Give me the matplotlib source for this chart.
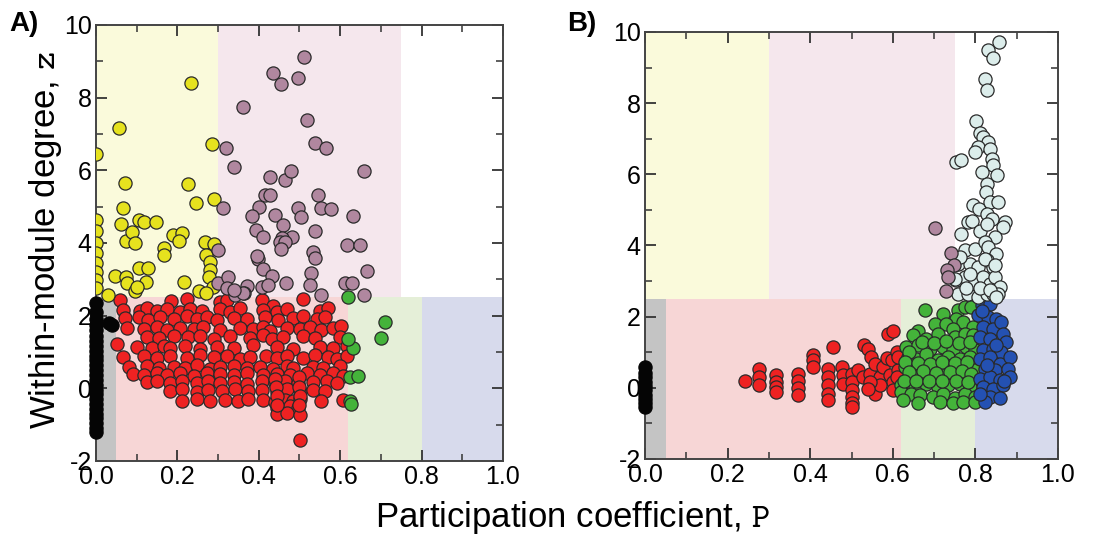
import matplotlib
matplotlib.use("Agg")
import matplotlib.pyplot as plt
from matplotlib.patches import Rectangle
from matplotlib.ticker import MultipleLocator, FormatStrFormatter

plt.rcParams['font.family'] = ['Liberation Sans', 'DejaVu Sans']
plt.rcParams['mathtext.fontset'] = 'cm'

# ---------------- role thresholds (cartography) ----------------
p_bounds_nonhub = [0.0, 0.05, 0.62, 0.80, 1.0]
p_bounds_hub = [0.0, 0.30, 0.75, 1.0]
z_hub = 2.5
nonhub_colors = ['#c4c4c4', '#f7d6d6', '#e5efd8', '#d7daec']
hub_colors = ['#fafadb', '#f5e7ed', '#ffffff']

# ---------------- Panel A data ----------------
A_black_P = [0.0]*26 + [0.033, 0.039]
A_black_z = [-1.2, -1.08, -0.95, -0.82, -0.7, -0.57, -0.44, -0.3, -0.17, -0.04,
             0.1, 0.23, 0.36, 0.5, 0.63, 0.77, 0.9, 1.04, 1.17, 1.31, 1.45,
             1.6, 1.75, 1.9, 2.1, 2.35, 1.80, 1.73]

A_yellow_P = [0.0, 0.0, 0.0, 0.0, 0.0, 0.0, 0.0, 0.0, 0.0,
              0.057, 0.072, 0.066, 0.061, 0.074, 0.088, 0.095, 0.105, 0.117, 0.147,
              0.105, 0.128, 0.123, 0.047, 0.074, 0.076, 0.096, 0.029, 0.166, 0.168,
              0.190, 0.211, 0.203, 0.234, 0.225, 0.246, 0.217, 0.285, 0.289, 0.268,
              0.291, 0.271, 0.279, 0.280, 0.277, 0.287, 0.252, 0.270, 0.101]
A_yellow_z = [6.44, 4.63, 4.33, 4.0, 3.72, 3.44, 3.2, 2.98, 2.75,
              7.17, 5.66, 4.95, 4.51, 4.06, 4.31, 3.99, 4.63, 4.59, 4.59,
              3.30, 3.32, 2.94, 3.09, 3.06, 2.89, 2.68, 2.57, 3.85, 3.67,
              4.22, 4.27, 4.06, 8.41, 5.62, 5.11, 2.94, 6.72, 5.20, 4.04,
              3.96, 3.67, 3.49, 3.26, 3.07, 2.78, 2.68, 2.63, 2.79]

A_purple_P = [0.512, 0.434, 0.455, 0.497, 0.362, 0.518, 0.320, 0.538, 0.565, 0.338,
              0.428, 0.464, 0.479, 0.659, 0.416, 0.428, 0.545, 0.312, 0.401, 0.497,
              0.504, 0.554, 0.577, 0.383, 0.440, 0.632, 0.460, 0.393, 0.411, 0.481,
              0.538, 0.458, 0.451, 0.464, 0.455, 0.534, 0.538, 0.616, 0.648, 0.301,
              0.397, 0.411, 0.432, 0.528, 0.667, 0.467, 0.526, 0.612, 0.628, 0.301,
              0.325, 0.321, 0.342, 0.370, 0.364, 0.409, 0.423, 0.553, 0.658, 0.362,
              0.340, 0.395]
A_purple_z = [9.11, 8.69, 8.38, 8.53, 7.75, 7.39, 6.62, 6.76, 6.62, 6.10,
              5.83, 5.73, 5.98, 5.98, 5.32, 5.32, 5.32, 4.95, 4.98, 4.95,
              4.71, 4.95, 4.94, 4.74, 4.77, 4.74, 4.50, 4.36, 4.17, 4.17,
              4.34, 4.13, 4.04, 4.04, 3.83, 3.76, 3.58, 3.94, 3.94, 3.81,
              3.55, 3.28, 3.09, 3.17, 3.23, 2.91, 2.84, 2.91, 2.89, 2.91,
              3.07, 2.75, 2.57, 2.82, 2.61, 2.78, 2.84, 2.57, 2.57, 2.62,
              2.70, 3.63]

A_green_P = [0.620, 0.710, 0.700, 0.632, 0.624, 0.643, 0.624, 0.626, 0.620]
A_green_z = [2.50, 1.83, 1.38, 1.10, 0.31, 0.33, -0.35, -0.44, 1.35]

A_red_P = [0.058, 0.184, 0.223, 0.305, 0.321, 0.407, 0.508, 0.436,
           0.066, 0.109, 0.125, 0.150, 0.174, 0.207, 0.231, 0.260, 0.305, 0.330, 0.354, 0.411, 0.444, 0.469, 0.550, 0.571,
           0.072, 0.105, 0.129, 0.158, 0.191, 0.223, 0.248, 0.272, 0.297, 0.338, 0.370, 0.415, 0.448, 0.485, 0.509, 0.542, 0.563,
           0.076, 0.117, 0.150, 0.174, 0.207, 0.240, 0.264, 0.305, 0.354, 0.387, 0.411, 0.428, 0.469, 0.501, 0.526, 0.554, 0.583, 0.603,
           0.125, 0.154, 0.191, 0.227, 0.256, 0.289, 0.330, 0.379, 0.411, 0.432, 0.460, 0.509, 0.538, 0.599, 0.052,
           0.101, 0.137, 0.166, 0.182, 0.219, 0.256, 0.297, 0.338, 0.387, 0.444, 0.485, 0.550, 0.583, 0.616,
           0.066, 0.117, 0.150, 0.182, 0.223, 0.256, 0.289, 0.321, 0.354, 0.379, 0.419, 0.444, 0.469, 0.509, 0.538, 0.571, 0.591, 0.616,
           0.080, 0.125, 0.154, 0.191, 0.219, 0.248, 0.280, 0.305, 0.338, 0.370, 0.403, 0.436, 0.469, 0.485, 0.534, 0.558, 0.599,
           0.092, 0.117, 0.150, 0.174, 0.207, 0.240, 0.272, 0.305, 0.338, 0.370, 0.411, 0.444, 0.477, 0.518, 0.550, 0.583, 0.608,
           0.125, 0.150, 0.182, 0.211, 0.248, 0.276, 0.305, 0.338, 0.370, 0.407, 0.440, 0.464, 0.497, 0.534, 0.567, 0.591,
           0.182, 0.211, 0.248, 0.276, 0.309, 0.342, 0.374, 0.407, 0.444, 0.469, 0.501, 0.534, 0.563,
           0.211, 0.248, 0.280, 0.317, 0.350, 0.374, 0.411, 0.440, 0.464, 0.485, 0.501, 0.554, 0.608,
           0.444, 0.477, 0.497, 0.444, 0.469, 0.501, 0.501,
           0.440, 0.442, 0.444, 0.446, 0.498, 0.500, 0.502, 0.499]
A_red_z = [2.44, 2.40, 2.46, 2.38, 2.42, 2.44, 2.45, 2.26,
           2.16, 2.12, 2.20, 2.14, 2.18, 2.10, 2.19, 2.13, 2.17, 2.11, 2.20, 2.15, 2.09, 2.18, 2.14, 2.20,
           1.93, 1.97, 1.88, 1.95, 1.90, 1.98, 1.91, 1.95, 1.87, 1.94, 1.90, 1.97, 1.89, 1.93, 1.98, 1.91, 1.96,
           1.65, 1.62, 1.69, 1.60, 1.67, 1.63, 1.70, 1.61, 1.66, 1.64, 1.70, 1.58, 1.66, 1.62, 1.68, 1.60, 1.65, 1.71,
           1.42, 1.38, 1.45, 1.40, 1.44, 1.36, 1.43, 1.39, 1.46, 1.37, 1.41, 1.45, 1.38, 1.42, 1.23,
           1.14, 1.10, 1.17, 1.12, 1.16, 1.09, 1.15, 1.11, 1.18, 1.13, 1.08, 1.15, 1.12, 1.17,
           0.86, 0.90, 0.83, 0.88, 0.84, 0.91, 0.85, 0.89, 0.82, 0.87, 0.90, 0.84, 0.88, 0.83, 0.91, 0.86, 0.80, 0.88,
           0.58, 0.62, 0.55, 0.60, 0.57, 0.63, 0.54, 0.59, 0.61, 0.56, 0.60, 0.53, 0.62, 0.57, 0.59, 0.55, 0.61,
           0.40, 0.36, 0.42, 0.38, 0.41, 0.35, 0.43, 0.39, 0.37, 0.42, 0.36, 0.40, 0.38, 0.43, 0.37, 0.41, 0.35,
           0.17, 0.20, 0.14, 0.19, 0.15, 0.21, 0.16, 0.18, 0.13, 0.20, 0.16, 0.19, 0.14, 0.18, 0.21, 0.15,
           -0.06, -0.03, -0.09, -0.04, -0.08, -0.02, -0.07, -0.05, -0.10, -0.03, -0.08, -0.04, -0.06,
           -0.34, -0.30, -0.36, -0.31, -0.35, -0.29, -0.33, -0.37, -0.32, -0.36, -0.30, -0.34, -0.31,
           -0.53, -0.50, -0.55, -0.71, -0.68, -0.73, -1.41,
           0.25, 0.05, -0.20, -0.45, 0.30, 0.05, -0.20, -0.45]

# ---------------- Panel B data ----------------
B_black_P = [0.0]*10
B_black_z = [-0.55, -0.43, -0.31, -0.19, -0.07, 0.05, 0.17, 0.29, 0.43, 0.58]

B_purple_P = [0.702, 0.740, 0.748, 0.732, 0.734, 0.730]
B_purple_z = [4.50, 3.79, 3.44, 3.32, 3.11, 2.72]

B_red_P = [0.242, 0.277, 0.277, 0.277, 0.317, 0.317, 0.317, 0.317,
           0.371, 0.371, 0.371, 0.371, 0.406, 0.406, 0.407, 0.456,
           0.444, 0.444, 0.444, 0.444, 0.444, 0.478, 0.480, 0.480,
           0.500, 0.500, 0.500, 0.500, 0.500, 0.500,
           0.530, 0.540, 0.548, 0.516, 0.528, 0.544, 0.556, 0.556, 0.556,
           0.569, 0.577, 0.585, 0.597, 0.589, 0.601, 0.593, 0.601, 0.601,
           0.609, 0.613, 0.569, 0.544, 0.540, 0.609, 0.613]
B_red_z = [0.19, 0.54, 0.31, 0.07, 0.36, 0.17, 0.03, -0.11,
           0.40, 0.19, 0.00, -0.20, 0.92, 0.78, 0.59, 1.15,
           0.54, 0.31, 0.07, -0.16, -0.35, 0.59, 0.36, 0.12,
           0.40, 0.17, -0.07, -0.25, -0.44, -0.53,
           1.20, 1.10, 0.87, 0.50, 0.31, 0.40, 0.68, 0.03, -0.16,
           0.31, 0.59, 0.85, 0.78, 1.52, 1.60, 0.36, 0.17, -0.07,
           1.01, 0.50, 0.07, 0.17, -0.02, 0.31, 0.87]

B_green_P = [0.677, 0.722, 0.758, 0.774, 0.790, 0.754,
             0.702, 0.730, 0.770, 0.794, 0.660, 0.745,
             0.649, 0.681, 0.710, 0.750, 0.774, 0.794,
             0.633, 0.661, 0.690, 0.722, 0.746, 0.778, 0.798,
             0.637, 0.657, 0.681, 0.710, 0.734, 0.762, 0.786,
             0.629, 0.649, 0.677, 0.706, 0.730, 0.758, 0.782, 0.798,
             0.641, 0.669, 0.698, 0.722, 0.746, 0.774, 0.794,
             0.621, 0.653, 0.681, 0.710, 0.734, 0.762, 0.786,
             0.621, 0.645, 0.665, 0.698, 0.722, 0.750, 0.774, 0.798,
             0.625, 0.661, 0.714, 0.746, 0.770, 0.798,
             0.640, 0.670, 0.700, 0.730, 0.760, 0.788,
             0.630, 0.660, 0.690, 0.720, 0.750, 0.780,
             0.640, 0.672, 0.705, 0.738, 0.768, 0.790,
             0.628, 0.655, 0.688, 0.718, 0.752, 0.782]
B_green_z = [2.18, 2.08, 2.18, 2.27, 2.27, 1.94,
             1.80, 1.80, 1.85, 1.71, 1.60, 1.65,
             1.48, 1.38, 1.52, 1.43, 1.52, 1.48,
             1.15, 1.20, 1.10, 1.15, 1.06, 1.15, 1.06,
             0.87, 0.82, 0.96, 0.78, 0.87, 0.82, 0.87,
             0.59, 0.64, 0.50, 0.54, 0.64, 0.59, 0.64, 0.50,
             0.31, 0.36, 0.26, 0.36, 0.26, 0.36, 0.26,
             0.07, 0.03, 0.12, 0.03, 0.07, 0.12, 0.03,
             -0.11, -0.16, -0.21, -0.25, -0.16, -0.30, -0.16, -0.25,
             -0.35, -0.44, -0.39, -0.44, -0.39, -0.39,
             1.00, 1.30, 1.25, 1.32, 1.25, 1.30,
             0.72, 0.70, 0.68, 0.72, 0.70, 0.72,
             0.45, 0.47, 0.42, 0.45, 0.47, 0.40,
             0.20, 0.18, 0.20, 0.18, 0.20, 0.15]

B_blue_P = [0.815, 0.835, 0.806, 0.831, 0.851, 0.819, 0.843, 0.863, 0.867, 0.810,
            0.835, 0.875, 0.819, 0.843, 0.863, 0.810, 0.835, 0.859, 0.883, 0.823,
            0.847, 0.879, 0.810, 0.835, 0.859, 0.883, 0.819, 0.843, 0.867, 0.835,
            0.859, 0.823, 0.810, 0.850, 0.828, 0.870, 0.815]
B_blue_z = [2.32, 2.36, 2.04, 1.99, 1.94, 1.71, 1.66, 1.85, 1.52, 1.43,
            1.38, 1.29, 1.06, 1.10, 1.01, 0.82, 0.87, 0.68, 0.87, 0.54,
            0.50, 0.54, 0.26, 0.31, 0.21, 0.31, 0.03, -0.02, 0.07, -0.25,
            -0.30, -0.39, -0.16, 1.20, 0.65, 0.20, 2.15]

B_white_P = [0.857, 0.831, 0.843, 0.823, 0.829, 0.801, 0.812, 0.819, 0.831,
             0.806, 0.798, 0.835, 0.840, 0.843, 0.754, 0.766, 0.817, 0.852,
             0.829, 0.825, 0.794, 0.808, 0.835, 0.855, 0.827, 0.839, 0.782,
             0.792, 0.871, 0.867, 0.766, 0.810, 0.827, 0.847, 0.774, 0.798,
             0.823, 0.831, 0.851, 0.827, 0.843, 0.758, 0.786, 0.806, 0.754,
             0.774, 0.798, 0.819, 0.835, 0.847, 0.859, 0.758, 0.782, 0.806,
             0.827, 0.843, 0.855, 0.762, 0.786, 0.823, 0.847, 0.750, 0.778,
             0.810, 0.835, 0.851]
B_white_z = [9.72, 9.48, 9.28, 8.67, 8.36, 7.50, 7.16, 7.05, 6.91,
             6.77, 6.63, 6.72, 6.44, 6.25, 6.34, 6.39, 6.06, 5.97,
             5.74, 5.50, 5.15, 5.03, 5.22, 5.22, 4.89, 4.75, 4.66,
             4.70, 4.66, 4.52, 4.33, 4.42, 4.61, 4.24, 3.86, 3.91,
             4.10, 3.96, 3.77, 3.58, 3.39, 3.49, 3.49, 3.39, 3.02,
             3.11, 2.97, 3.11, 2.93, 3.11, 2.84, 2.64, 2.64, 2.55,
             2.64, 2.64, 2.64, 3.67, 3.21, 3.63, 3.44, 3.07, 2.80,
             2.80, 2.75, 2.55]

# ---------------- colours ----------------
c_black = '#050505'
c_red = '#ee2222'
c_green = '#44b33a'
c_blue = '#2451b2'
c_yellow = '#e6e21e'
c_purple = '#b0879f'
c_white = '#dcedeb'
edge = '#2a2a2a'

fig = plt.figure(figsize=(11.03, 5.41), dpi=100)
axA = fig.add_axes([0.0870, 0.1479, 0.3690, 0.8059])
axB = fig.add_axes([0.5848, 0.1516, 0.3744, 0.7893])

def draw_background(ax):
    for i, c in enumerate(nonhub_colors):
        ax.add_patch(Rectangle((p_bounds_nonhub[i], -2), p_bounds_nonhub[i+1]-p_bounds_nonhub[i],
                               z_hub + 2, facecolor=c, edgecolor='none', zorder=0))
    for i, c in enumerate(hub_colors):
        ax.add_patch(Rectangle((p_bounds_hub[i], z_hub), p_bounds_hub[i+1]-p_bounds_hub[i],
                               10 - z_hub, facecolor=c, edgecolor='none', zorder=0))

def style(ax):
    ax.set_xlim(0, 1)
    ax.set_ylim(-2, 10)
    ax.xaxis.set_major_locator(MultipleLocator(0.2))
    ax.xaxis.set_minor_locator(MultipleLocator(0.1))
    ax.yaxis.set_major_locator(MultipleLocator(2))
    ax.yaxis.set_minor_locator(MultipleLocator(1))
    ax.xaxis.set_major_formatter(FormatStrFormatter('%.1f'))
    ax.yaxis.set_major_formatter(FormatStrFormatter('%d'))
    ax.tick_params(which='both', direction='in', top=True, right=True, color='#333333',
                   labelsize=18, pad=3)
    ax.tick_params(which='major', length=8, width=1.3)
    ax.tick_params(which='minor', length=5, width=1.1)
    for s in ax.spines.values():
        s.set_linewidth(1.4)
        s.set_color('#444444')

ms = 90
lw = 0.9

draw_background(axA)
axA.scatter(A_red_P, A_red_z, s=ms, c=c_red, edgecolors=edge, linewidths=lw, zorder=3)
axA.scatter(A_green_P, A_green_z, s=ms, c=c_green, edgecolors=edge, linewidths=lw, zorder=3)
axA.scatter(A_yellow_P, A_yellow_z, s=ms, c=c_yellow, edgecolors=edge, linewidths=lw, zorder=3)
axA.scatter(A_purple_P, A_purple_z, s=ms, c=c_purple, edgecolors=edge, linewidths=lw, zorder=3)
axA.scatter(A_black_P, A_black_z, s=ms, c=c_black, edgecolors=c_black, linewidths=lw, zorder=4, clip_on=False)
style(axA)

draw_background(axB)
axB.scatter(B_red_P, B_red_z, s=ms, c=c_red, edgecolors=edge, linewidths=lw, zorder=3)
axB.scatter(B_green_P, B_green_z, s=ms, c=c_green, edgecolors=edge, linewidths=lw, zorder=3)
axB.scatter(B_blue_P, B_blue_z, s=ms, c=c_blue, edgecolors=edge, linewidths=lw, zorder=3)
axB.scatter(B_white_P, B_white_z, s=ms, c=c_white, edgecolors=edge, linewidths=lw, zorder=3)
axB.scatter(B_purple_P, B_purple_z, s=ms, c=c_purple, edgecolors=edge, linewidths=lw, zorder=3)
axB.scatter(B_black_P, B_black_z, s=ms, c=c_black, edgecolors=c_black, linewidths=lw, zorder=4, clip_on=False)
style(axB)

fig.text(0.041, 0.556, r'Within-module degree, $\mathtt{z}$', rotation=90,
         ha='center', va='center', fontsize=25)
fig.text(0.519, 0.043, r'Participation coefficient, $\mathtt{P}$',
         ha='center', va='center', fontsize=25)
fig.text(0.008, 0.955, 'A)', fontsize=20, fontweight='bold', ha='left', va='center',
         family=['Liberation Sans Narrow', 'Liberation Sans'])
fig.text(0.514, 0.955, 'B)', fontsize=20, fontweight='bold', ha='left', va='center',
         family=['Liberation Sans Narrow', 'Liberation Sans'])

fig.savefig('out.png', dpi=100)
